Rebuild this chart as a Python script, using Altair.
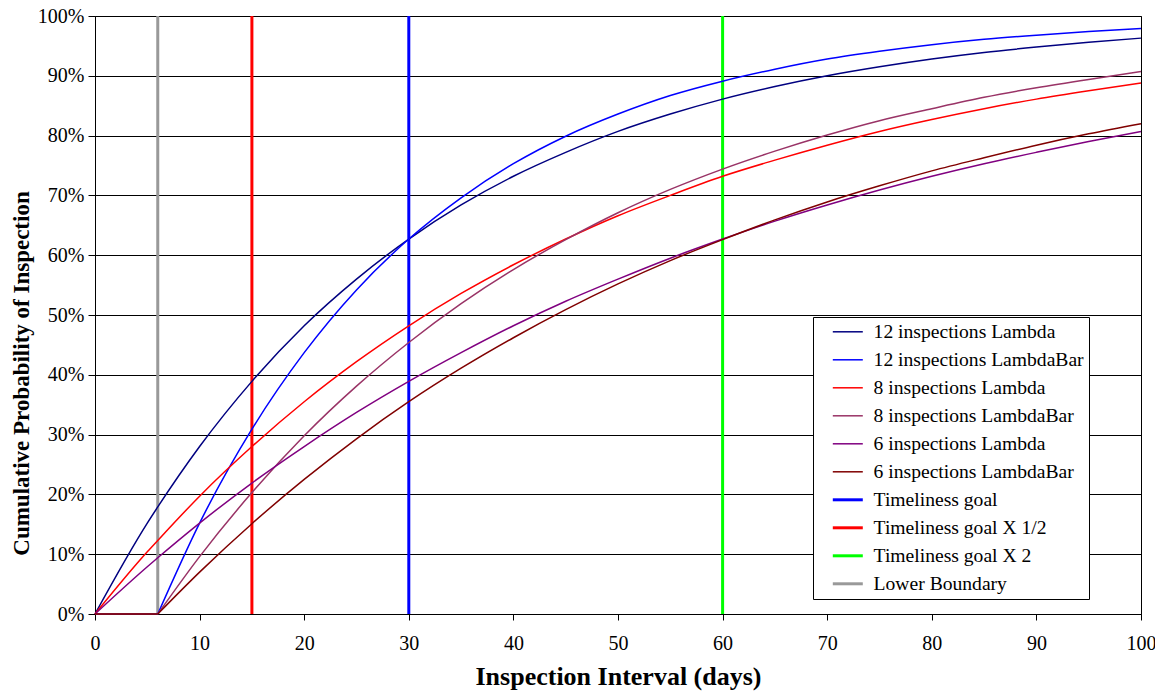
import altair as alt
import pandas as pd

# x positions (days) at which the curves were read
xs = [0, 5, 6, 10, 15, 20, 25, 30, 35, 40, 45, 50, 55, 60, 65, 70, 75, 80, 85, 90, 95, 100]

l12 = [0, 0.152, 0.179, 0.280, 0.389, 0.482, 0.560, 0.627, 0.684, 0.732, 0.772, 0.807, 0.836, 0.861, 0.882, 0.900, 0.915, 0.928, 0.939, 0.948, 0.956, 0.963]
lb12 = [0, 0, 0, 0.152, 0.309, 0.437, 0.542, 0.627, 0.696, 0.753, 0.799, 0.836, 0.867, 0.891, 0.911, 0.928, 0.941, 0.952, 0.961, 0.968, 0.974, 0.979]
l8 = [0, 0.104, 0.123, 0.197, 0.280, 0.355, 0.422, 0.482, 0.536, 0.584, 0.627, 0.666, 0.700, 0.732, 0.759, 0.784, 0.807, 0.827, 0.845, 0.861, 0.875, 0.888]
lb8 = [0, 0, 0, 0.096, 0.203, 0.298, 0.381, 0.454, 0.519, 0.576, 0.626, 0.671, 0.710, 0.744, 0.774, 0.801, 0.825, 0.845, 0.864, 0.880, 0.894, 0.907]
l6 = [0, 0.079, 0.094, 0.152, 0.219, 0.280, 0.337, 0.389, 0.437, 0.482, 0.523, 0.560, 0.595, 0.627, 0.657, 0.684, 0.709, 0.732, 0.753, 0.772, 0.790, 0.807]
lb6 = [0, 0, 0, 0.070, 0.151, 0.225, 0.293, 0.355, 0.411, 0.462, 0.509, 0.552, 0.591, 0.626, 0.659, 0.689, 0.716, 0.741, 0.763, 0.784, 0.803, 0.820]

curve_names = [
    "12 inspections Lambda", "12 inspections LambdaBar",
    "8 inspections Lambda", "8 inspections LambdaBar",
    "6 inspections Lambda", "6 inspections LambdaBar",
]
curve_values = [l12, lb12, l8, lb8, l6, lb6]
curve_shifted = [False, True, False, True, False, True]

goal_names = ["Timeliness goal", "Timeliness goal X 1/2", "Timeliness goal X 2", "Lower Boundary"]
goal_days = [30, 15, 60, 6]

all_names = curve_names + goal_names
all_colors = ["#000080", "#0000FF", "#FF0000", "#993366", "#800080", "#800000",
              "#0000FF", "#FF0000", "#00FF00", "#999999"]

rows = []
for name, vals, shifted in zip(curve_names, curve_values, curve_shifted):
    for x, v in zip(xs, vals):
        if shifted:
            if x <= 6:
                rows.append({"series": name, "seg": name + "_a", "x": x, "y": v})
            if x >= 6:
                rows.append({"series": name, "seg": name + "_b", "x": x, "y": v})
        else:
            rows.append({"series": name, "seg": name, "x": x, "y": v})
curves = pd.DataFrame(rows)
goals = pd.DataFrame({"series": goal_names, "x": goal_days})

FONT = "Liberation Serif"

goal_list = "[" + ",".join("'" + g + "'" for g in goal_names) + "]"

color = alt.Color(
    "series:N",
    scale=alt.Scale(domain=all_names, range=all_colors),
    legend=alt.Legend(
        title=None, orient="none", legendX=718, legendY=301,
        strokeColor="black", fillColor="white", padding=5,
        symbolType="stroke", symbolSize=900, symbolOffset=20,
        labelFont=FONT, labelFontSize=19.6, labelColor="black",
        rowPadding=7, labelOffset=16, labelLimit=400,
        symbolStrokeWidth=alt.ExprRef(
            expr="indexof(" + goal_list + ", datum.value) >= 0 ? 3 : 1.5"),
    ),
)

xenc = alt.X(
    "x:Q",
    scale=alt.Scale(domain=[0, 100], nice=False),
    axis=alt.Axis(
        title="Inspection Interval (days)", values=list(range(0, 101, 10)),
        grid=False, tickSize=6, labelPadding=13, titlePadding=10,
        labelFlush=False, titleFontSize=26,
    ),
)
yenc = alt.Y(
    "y:Q",
    scale=alt.Scale(domain=[0, 1], nice=False),
    axis=alt.Axis(
        title="Cumulative Probability of Inspection", format=".0%",
        values=[i / 10 for i in range(11)], grid=True, tickSize=7,
        labelPadding=4, labelFlush=False, titleFontSize=23,
        titleX=-67, titleY=357, titleBaseline="alphabetic",
    ),
)

lines = alt.Chart(curves).mark_line(interpolate="monotone", strokeWidth=1.5).encode(
    x=xenc, y=yenc, color=color, detail="seg:N",
)
rules = alt.Chart(goals).mark_rule(strokeWidth=3).encode(
    x=alt.X("x:Q"), color=color,
)

chart = alt.layer(rules, lines).properties(
    width=1046, height=598,
    autosize=alt.AutoSizeParams(type="none"),
    padding={"left": 87, "top": 8, "right": 14, "bottom": 78},
).configure_view(
    stroke="black", strokeWidth=1,
).configure_axis(
    labelFont=FONT, labelFontSize=20, labelColor="black",
    titleFont=FONT, titleFontWeight="bold", titleColor="black",
    domainColor="black", tickColor="black", gridColor="black", gridOpacity=1,
)

chart.save("out.html", embed_options={"renderer": "svg", "actions": False})
